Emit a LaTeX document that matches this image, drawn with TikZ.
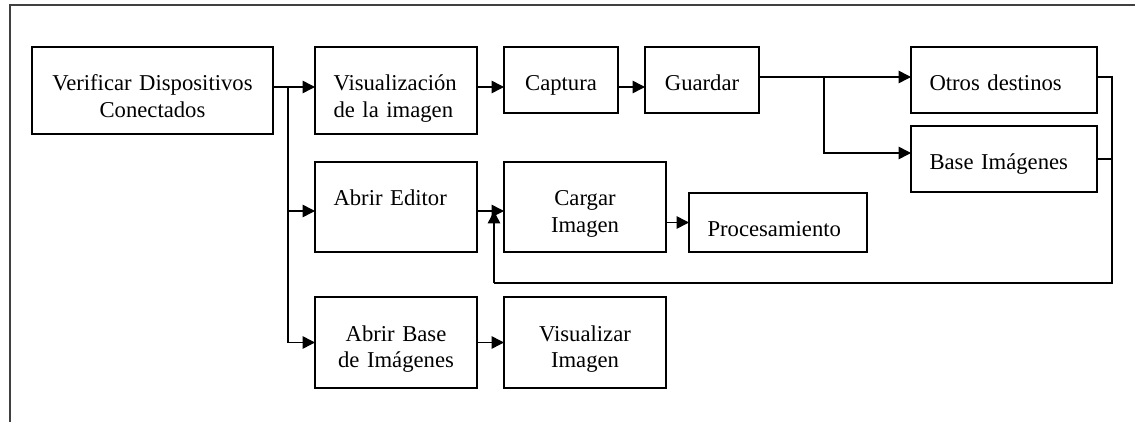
\documentclass[tikz,border=0pt]{standalone}
\usepackage{fontspec}
\setmainfont{Liberation Serif}
\usetikzlibrary{arrows.meta}
\tikzset{
	caja/.style 2 args={draw, line width=0.8pt, inner sep=0pt, outer sep=0pt, align=center,
		font=\fontsize{12.9}{14.8}\selectfont, text width=#1, text height=0.88cm, text depth=#2},
	cajaizq/.style 2 args={caja={#1}{#2}, align=left, inner xsep=0.37cm},
	flecha/.style={-{Triangle[length=7pt,width=7pt]}, line width=0.8pt},
	linea/.style={line width=0.8pt}
}
\begin{document}
\begin{tikzpicture}[x=0.02cm,y=-0.02cm]
		\useasboundingbox (0,0) rectangle (1135,422);
		\draw[line width=1pt, black!75] (1135,5) -- (10,5) -- (10,422);
		\node[caja={4.82cm}{0.86cm}] (verificar) at (152.5,90.5) {Verificar Dispositivos\\Conectados};
		\node[cajaizq={2.50cm}{0.86cm}] (visual) at (396,90.5) {Visualización\\de la imagen};
		\node[caja={2.28cm}{0.44cm}] (captura) at (561,80) {Captura};
		\node[caja={2.28cm}{0.44cm}] (guardar) at (702,80) {Guardar};
		\node[cajaizq={2.98cm}{0.44cm}] (otros) at (1004,80) {Otros destinos};
		\node[cajaizq={2.98cm}{0.44cm}] (baseimg) at (1004,159) {Base Imágenes};
		\node[cajaizq={2.50cm}{0.92cm}] (editor) at (396,207) {Abrir Editor};
		\node[caja={3.24cm}{0.92cm}] (cargar) at (585,207) {Cargar\\Imagen};
		\node[cajaizq={2.82cm}{0.30cm}] (proc) at (778,222.5) {Procesamiento};
		\node[caja={3.24cm}{0.94cm}] (abrirbase) at (396,342.5) {Abrir Base\\de Imágenes};
		\node[caja={3.24cm}{0.94cm}] (visimg) at (585,342.5) {Visualizar\\Imagen};
		\coordinate (s1) at (288,87);
		\coordinate (e1) at (288,211);
		\coordinate (g1) at (824,77);
		\coordinate (g2) at (824,153);
		\coordinate (r1) at (1112,283);
		\coordinate (r2) at (494,283);
		\draw[linea] (verificar.east |- s1) -- (s1);
		\draw[flecha] (s1) -- (visual.west |- s1);
		\draw[flecha] (s1) |- (abrirbase.west);
		\draw[flecha] (e1) -- (editor.west |- e1);
		\draw[flecha] (visual.east |- s1) -- (captura.west |- s1);
		\draw[flecha] (captura.east |- s1) -- (guardar.west |- s1);
		\draw[flecha] (guardar.east |- g1) -- (otros.west |- g1);
		\draw[flecha] (g1) -- (g2) -- (baseimg.west |- g2);
		\draw[flecha] (editor.east |- e1) -- (cargar.west |- e1);
		\draw[flecha] (cargar.east |- proc.west) -- (proc.west);
		\draw[flecha] (abrirbase) -- (visimg);
		\draw[linea] (otros.east |- g1) -| (r1) -- (r2);
		\draw[linea] (baseimg.east) -- (baseimg.east -| r1);
		\draw[flecha] (r2) -- (r2 |- e1);
\end{tikzpicture}
\end{document}
